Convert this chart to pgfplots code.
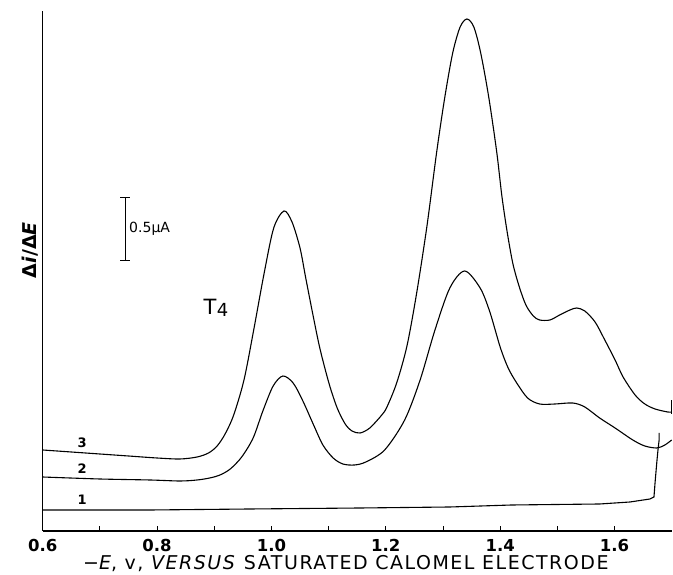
\documentclass[border=0pt]{standalone}
\usepackage{fontspec}
\setmainfont{DejaVu Sans}
\newfontfamily\titlefont[LetterSpace=8]{DejaVu Sans}
\usepackage{pgfplots}
\pgfplotsset{compat=1.18}
\begin{document}
\begin{tikzpicture}
\begin{axis}[
  scale only axis, width=629pt, height=520pt,
  xmin=0.6, xmax=1.7, ymin=0, ymax=520,
  axis lines=left, axis line style={-, line width=1.1pt},
  clip=false,
  xtick={0.6,0.8,1.0,1.2,1.4,1.6},
  xticklabels={\textbf{0.6},\textbf{0.8},\textbf{1.0},\textbf{1.2},\textbf{1.4},\textbf{1.6}},
  minor xtick={0.7,0.9,1.1,1.3,1.5},
  ytick=\empty,
  tick align=inside, major tick length=5pt, minor tick length=5pt,
  tick style={line width=0.8pt, black},
  xticklabel style={font=\fontsize{16.5}{16.5}\selectfont, anchor=base, yshift=-20.5pt},
  xlabel={\titlefont\fontsize{19}{19}\selectfont −\textit{E}, v, \textit{VERSUS} SATURATED CALOMEL ELECTRODE},
  xlabel style={at={(axis description cs:0.482,0)}, anchor=base, yshift=-38.5pt},
]
% curve 3
\addplot[black, line width=1.1pt, smooth, tension=0.5] coordinates {
(0.600,81) (0.650,79) (0.700,77) (0.750,75) (0.800,73) (0.840,72) (0.870,74) (0.890,78)
(0.905,85) (0.919,97) (0.934,116) (0.952,151) (0.969,201) (0.987,257) (1.004,303) (1.022,320)
(1.036,309) (1.050,283) (1.060,253) (1.073,215) (1.085,182) (1.101,147) (1.115,123)
(1.129,107) (1.141,100) (1.155,98) (1.172,103) (1.193,116) (1.202,124) (1.219,148)
(1.237,185) (1.254,238) (1.272,305) (1.289,379) (1.303,433) (1.317,478) (1.330,504)
(1.342,512) (1.354,504) (1.366,478) (1.380,434) (1.394,379) (1.403,335) (1.412,300)
(1.422,268) (1.433,245) (1.445,226) (1.458,215) (1.469,211) (1.487,211) (1.504,216) (1.522,221)
(1.534,223) (1.548,220) (1.566,209) (1.583,191) (1.601,171) (1.615,154) (1.636,136)
(1.653,127) (1.671,122) (1.693,119) (1.700,119)
};
\addplot[black, line width=1pt] coordinates {(1.700,117) (1.700,131)};
% curve 2
\addplot[black, line width=1.1pt, smooth, tension=0.5] coordinates {
(0.600,54) (0.700,52) (0.788,51) (0.840,50) (0.870,51) (0.892,53) (0.910,56) (0.928,62)
(0.948,74) (0.968,93) (0.985,120) (1.003,145) (1.020,155) (1.038,148) (1.055,130)
(1.073,107) (1.090,86) (1.108,73) (1.125,67) (1.145,66) (1.165,69) (1.198,81)
(1.233,111) (1.260,151) (1.286,201) (1.312,243) (1.338,260) (1.365,243) (1.382,219)
(1.400,184) (1.414,163) (1.429,148) (1.448,133) (1.469,127) (1.496,127) (1.527,128)
(1.548,124) (1.574,113) (1.601,103) (1.632,91) (1.653,85) (1.674,83) (1.688,86) (1.700,91)
};
% curve 1
\addplot[black, line width=1.1pt] coordinates {
(0.600,21) (0.788,21) (0.962,22) (1.155,23) (1.312,24) (1.420,26) (1.574,27) (1.627,29)
(1.662,32) (1.669,34) (1.671,49) (1.674,69) (1.676,81) (1.678,91) (1.678,98)
};
% labels
\node[font=\bfseries\fontsize{13}{13}\selectfont] at (axis cs:0.669,88) {3};
\node[font=\bfseries\fontsize{13}{13}\selectfont] at (axis cs:0.669,62) {2};
\node[font=\bfseries\fontsize{13}{13}\selectfont] at (axis cs:0.669,31) {1};
\node[rotate=90, font=\bfseries\fontsize{19}{19}\selectfont] at (rel axis cs:-0.0207,0.54) {Δ\textit{i}/Δ\textit{E}};
% scale bar
\draw[line width=0.9pt] (axis cs:0.744,271) -- (axis cs:0.744,334);
\draw[line width=0.9pt] (axis cs:0.7353,334) -- (axis cs:0.7527,334);
\draw[line width=0.9pt] (axis cs:0.7353,271) -- (axis cs:0.7527,271);
\node[anchor=west, inner sep=0pt, font=\fontsize{14}{14}\selectfont] at (axis cs:0.751,302) {0.5μA};
\node[font=\fontsize{21}{21}\selectfont] at (axis cs:0.903,223) {T\kern0.5pt{\fontsize{18}{18}\selectfont\raisebox{-0.12em}{4}}};
\end{axis}
\pgfresetboundingbox
\path (-42.7pt,-44pt) rectangle (630.3pt,531pt);
\end{tikzpicture}
\end{document}
